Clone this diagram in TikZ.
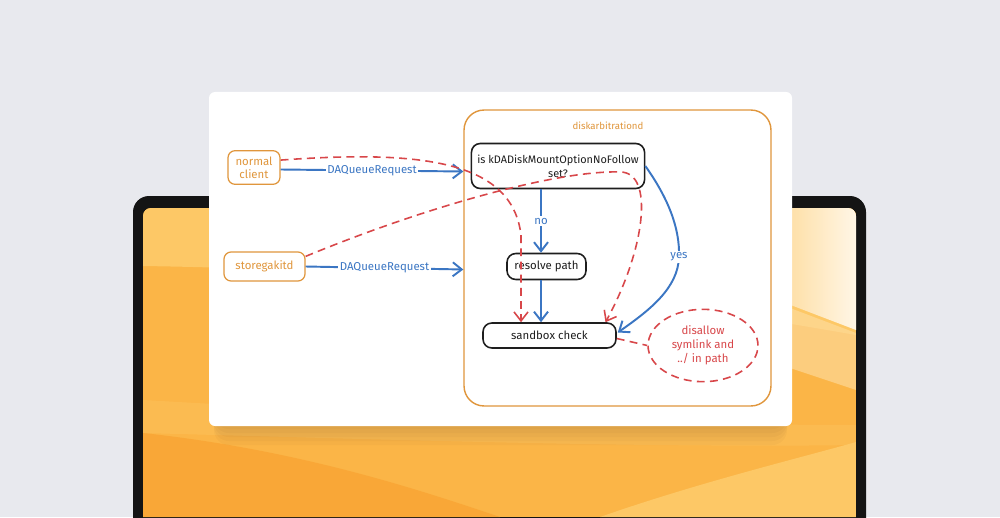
\documentclass[tikz,border=0pt]{standalone}
\usepackage{fontspec}
\setmainfont{Fira Sans}
\usetikzlibrary{arrows.meta, calc, shapes.geometric}

\definecolor{pagegray}{HTML}{E8E9EE}
\definecolor{screenlight}{HTML}{FDC866}
\definecolor{screenmid}{HTML}{FBB547}
\definecolor{screendeep}{HTML}{F9A737}
\definecolor{screencream}{HTML}{FFF6E6}
\definecolor{daorange}{HTML}{E0963C}
\definecolor{reqblue}{HTML}{3B76C3}
\definecolor{denyred}{HTML}{D8474A}
\definecolor{boxink}{HTML}{1E1E1E}

\begin{document}
\begin{tikzpicture}[x=0.02cm, y=-0.02cm, thick,
    >={Straight Barb[length=1.8mm, width=2.8mm]},
    client_box/.style={draw=daorange, line width=0.7pt, rounded corners=4pt, text=daorange, align=center, font=\fontsize{6.5}{7.5}\selectfont},
    step_box/.style={draw=boxink, line width=0.9pt, rounded corners=5pt, text=boxink, align=center, font=\fontsize{6.5}{8}\selectfont},
    request/.style={->, reqblue, line width=1.1pt},
    deny/.style={->, denyred, line width=0.9pt, dash pattern=on 4.5pt off 3pt},
    flow_text/.style={font=\fontsize{6.5}{7.5}\selectfont, fill=white, inner sep=1pt}
]

% Page, laptop and wallpaper
\useasboundingbox (0,0) rectangle (1000,517);
\clip (0,0) rectangle (1000,517);
\fill[pagegray] (0,0) rectangle (1000,517);
\fill[black!92, rounded corners=0.32cm] (133,560) rectangle (866,196);
\begin{scope}
  \clip[rounded corners=0.16cm] (143,560) rectangle (856,208);
  \fill[screenmid] (143,208) rectangle (856,517);
  \fill[screenlight] (143,208) -- (856,208) -- (856,335) .. controls (600,290) and (400,270) .. (143,266) -- cycle;
  \shade[left color=screenlight, right color=screencream] (720,208) -- (856,208) -- (856,330) -- (720,278) -- cycle;
  \fill[screenlight!60!white, opacity=0.6] (790,308) -- (856,333) -- (856,390) -- (790,368) -- cycle;
  \fill[screenlight, opacity=0.35] (143,400) .. controls (400,415) and (650,425) .. (856,425) -- (856,445) .. controls (650,448) and (400,440) .. (143,433) -- cycle;
  \fill[screendeep] (143,433) .. controls (300,450) and (420,490) .. (500,517) -- (143,517) -- cycle;
  \fill[screenlight] (600,517) .. controls (700,482) and (800,458) .. (856,442) -- (856,517) -- cycle;
  % soft shadow under the card
  \foreach \s in {3,7,11,15,19} {
    \fill[brown!60!black, opacity=0.045, rounded corners=0.3cm] (214,380) rectangle (787,426+\s);
  }
\end{scope}

% Card
\fill[white, rounded corners=0.12cm] (209,92) rectangle (792,426);

% Container and its title
\node[draw=daorange, line width=0.8pt, rounded corners=0.4cm, minimum width=6.14cm, minimum height=5.92cm] (daemon) at (617.5,258) {};
\node[text=daorange, font=\fontsize{5.5}{6.5}\selectfont] (title) at (608,126) {diskarbitrationd};

% Clients
\node[client_box, minimum width=1.04cm, minimum height=0.66cm] (client) at (254,167.5) {normal\\client};
\node[client_box, minimum width=1.62cm, minimum height=0.58cm] (storage) at (264.5,266.5) {storegakitd};

% Steps inside the daemon
\node[step_box, minimum width=3.4cm, minimum height=0.9cm, font=\fontsize{6.2}{8}\selectfont] (check) at (558,166) {is kDADiskMountOptionNoFollow\\set?};
\node[step_box, minimum width=1.58cm, minimum height=0.52cm] (resolve) at (546.5,266.5) {resolve path};
\node[step_box, minimum width=2.66cm, minimum height=0.5cm] (sandbox) at (549.5,335.5) {sandbox check};
\node[draw=denyred, ellipse, line width=0.9pt, dash pattern=on 4.5pt off 3pt, minimum width=2.2cm, minimum height=1.3cm, text=denyred, align=center, font=\fontsize{6.5}{8}\selectfont] (rule) at (703,345.5) {disallow\\symlink and\\../ in path};

% Requests
\draw[request] ($(client.east)+(0,2)$) -- ($(client.east -| daemon.west)+(0,4)$) node[flow_text, text=reqblue, midway] {DAQueueRequest};
\draw[request] (storage.east) -- ($(storage.east -| daemon.west)+(0,3)$) node[flow_text, text=reqblue, midway] {DAQueueRequest};

% Decision flow
\coordinate (nox) at (541,0);
\draw[request] (check.south -| nox) -- (resolve.north -| nox) node[flow_text, text=reqblue, midway] {no};
\draw[request] (resolve.south -| nox) -- (sandbox.north -| nox);
\coordinate (yesmid) at (679,257);
\draw[request] (check.east) .. controls (668,198) and (680,228) .. (yesmid) .. controls (678,288) and (650,310) .. ($(sandbox.east)+(1,-3)$);
\node[flow_text, text=reqblue] (yes) at (yesmid) {yes};

% Bypass paths
\coordinate (d1) at (521,235);
\draw[deny] ($(client.north east)+(0,10)$) .. controls (420,150) and (512,160) .. (d1) -- (d1 |- sandbox.north);
\coordinate (d2) at (620,172);
\draw[deny] ($(storage.north east)+(0,5)$) .. controls (430,205) and (560,170) .. (d2) .. controls (655,172) and (645,250) .. ($(sandbox.north)+(56,0)$);
\draw[denyred, line width=0.9pt, dash pattern=on 4.5pt off 3pt] ($(sandbox.east)+(0,3)$) -- (rule.west);

\end{tikzpicture}
\end{document}
